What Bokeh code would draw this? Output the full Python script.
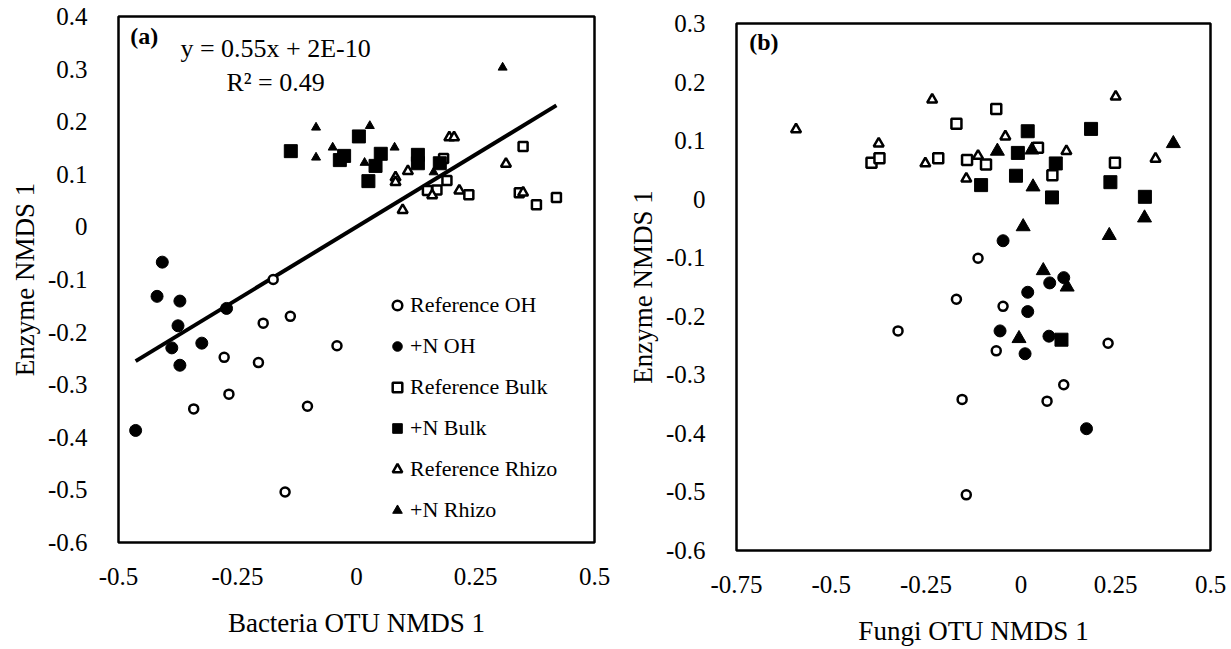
from bokeh.plotting import figure
from bokeh.models import Range1d, FixedTicker, Label, Legend, LegendItem
from bokeh.layouts import row
from bokeh.embed import file_html
from bokeh.resources import INLINE

FONT = "Liberation Serif"

# ---------------- Panel (a): Bacteria OTU NMDS 1 vs Enzyme NMDS 1 ----------------
a_ref_oh_x = [-0.175, -0.196, -0.139, -0.041, -0.278, -0.206, -0.268, -0.342, -0.103, -0.150]
a_ref_oh_y = [-0.100, -0.183, -0.170, -0.226, -0.248, -0.258, -0.318, -0.346, -0.341, -0.504]
a_n_oh_x = [-0.408, -0.419, -0.371, -0.375, -0.388, -0.325, -0.371, -0.273, -0.464]
a_n_oh_y = [-0.067, -0.132, -0.141, -0.188, -0.230, -0.221, -0.263, -0.155, -0.387]
a_ref_bulk_x = [0.183, 0.350, 0.190, 0.149, 0.169, 0.236, 0.342, 0.378, 0.420]
a_ref_bulk_y = [0.130, 0.153, 0.088, 0.069, 0.070, 0.061, 0.065, 0.042, 0.056]
a_n_bulk_x = [-0.138, 0.005, -0.035, -0.026, 0.051, 0.040, 0.025, 0.129, 0.129, 0.175]
a_n_bulk_y = [0.144, 0.172, 0.127, 0.135, 0.139, 0.116, 0.087, 0.137, 0.121, 0.121]
a_ref_rhizo_x = [0.195, 0.205, 0.314, 0.082, 0.082, 0.108, 0.097, 0.216, 0.159, 0.350]
a_ref_rhizo_y = [0.170, 0.170, 0.120, 0.094, 0.085, 0.106, 0.032, 0.069, 0.060, 0.065]
a_n_rhizo_x = [-0.085, 0.028, 0.307, -0.050, -0.085, 0.080, 0.017, 0.162]
a_n_rhizo_y = [0.189, 0.192, 0.303, 0.151, 0.132, 0.151, 0.122, 0.104]

trend_slope = 0.55
trend_intercept = 2e-10
trend_text = "y = 0.55x + 2E-10"
r2_text = "R\u00b2 = 0.49"

# ---------------- Panel (b): Fungi OTU NMDS 1 vs Enzyme NMDS 1 ----------------
b_ref_oh_x = [-0.113, -0.170, -0.047, -0.324, -0.065, 0.230, 0.113, -0.155, 0.069, -0.144]
b_ref_oh_y = [-0.101, -0.171, -0.183, -0.225, -0.259, -0.246, -0.317, -0.342, -0.345, -0.505]
b_n_oh_x = [-0.047, 0.113, 0.076, 0.018, 0.018, -0.055, 0.074, 0.011, 0.173]
b_n_oh_y = [-0.071, -0.134, -0.143, -0.159, -0.192, -0.225, -0.234, -0.264, -0.392]
b_ref_bulk_x = [-0.394, -0.373, -0.218, -0.170, -0.142, -0.092, -0.065, 0.045, 0.083, 0.248]
b_ref_bulk_y = [0.062, 0.070, 0.070, 0.129, 0.067, 0.059, 0.154, 0.088, 0.041, 0.062]
b_n_bulk_x = [-0.105, 0.018, -0.008, -0.013, 0.092, 0.082, 0.185, 0.236, 0.327, 0.107]
b_n_bulk_y = [0.024, 0.116, 0.079, 0.040, 0.061, 0.003, 0.120, 0.029, 0.004, -0.240]
b_ref_rhizo_x = [-0.593, -0.375, -0.234, -0.252, -0.113, -0.144, -0.041, 0.120, 0.250, 0.355]
b_ref_rhizo_y = [0.119, 0.095, 0.170, 0.061, 0.074, 0.035, 0.107, 0.082, 0.175, 0.069]
b_n_rhizo_x = [-0.062, 0.029, 0.032, 0.402, 0.006, 0.233, 0.326, 0.059, 0.122, -0.005]
b_n_rhizo_y = [0.082, 0.084, 0.021, 0.095, -0.047, -0.062, -0.032, -0.122, -0.150, -0.238]

# ---------------- Axes ----------------
a_xticks = [-0.5, -0.25, 0, 0.25, 0.5]
a_xlabels = ["-0.5", "-0.25", "0", "0.25", "0.5"]
a_yticks = [-0.6, -0.5, -0.4, -0.3, -0.2, -0.1, 0, 0.1, 0.2, 0.3, 0.4]
a_ylabels = ["-0.6", "-0.5", "-0.4", "-0.3", "-0.2", "-0.1", "0", "0.1", "0.2", "0.3", "0.4"]
b_xticks = [-0.75, -0.5, -0.25, 0, 0.25, 0.5]
b_xlabels = ["-0.75", "-0.5", "-0.25", "0", "0.25", "0.5"]
b_yticks = [-0.6, -0.5, -0.4, -0.3, -0.2, -0.1, 0, 0.1, 0.2, 0.3]
b_ylabels = ["-0.6", "-0.5", "-0.4", "-0.3", "-0.2", "-0.1", "0", "0.1", "0.2", "0.3"]

series_names = ["Reference OH", "+N OH", "Reference Bulk", "+N Bulk", "Reference Rhizo", "+N Rhizo"]


def make_fig(xr, yr, w, ml, mr, mt, mb, xticks, xlabels, yticks, ylabels, xtitle, ytitle):
    p = figure(width=w, height=649, x_range=Range1d(*xr), y_range=Range1d(*yr),
               output_backend="svg", toolbar_location=None,
               min_border_left=ml, min_border_right=mr, min_border_top=mt, min_border_bottom=mb)
    p.frame_align = False
    p.xgrid.visible = False
    p.ygrid.visible = False
    p.background_fill_color = "white"
    p.border_fill_color = "white"
    p.outline_line_color = "black"
    p.outline_line_width = 2.5
    p.outline_line_alpha = 1.0
    for ax, ticks, labels, title in [(p.xaxis[0], xticks, xlabels, xtitle),
                                     (p.yaxis[0], yticks, ylabels, ytitle)]:
        ax.ticker = FixedTicker(ticks=ticks)
        ax.major_label_overrides = dict(zip(ticks, labels))
        ax.major_tick_line_color = None
        ax.minor_tick_line_color = None
        ax.axis_line_color = None
        ax.major_label_text_font = FONT
        ax.major_label_text_font_size = "25px"
        ax.major_label_text_color = "black"
        ax.axis_label = title
        ax.axis_label_text_font = FONT
        ax.axis_label_text_font_size = "27px"
        ax.axis_label_text_font_style = "normal"
        ax.axis_label_text_color = "black"
    p.xaxis[0].major_label_standoff = 19
    p.xaxis[0].axis_label_standoff = 20
    p.yaxis[0].major_label_standoff = 25
    p.yaxis[0].axis_label_standoff = 5
    return p


def add_series(p, xs_list, ys_list, sizes):
    styles = [
        dict(marker="circle", fill_color="white", line_color="black", line_width=2.5),
        dict(marker="circle", fill_color="black", line_color="black", line_width=1),
        dict(marker="square", fill_color="white", line_color="black", line_width=2.5),
        dict(marker="square", fill_color="black", line_color="black", line_width=1),
        dict(marker="triangle", fill_color="white", line_color="black", line_width=2.5),
        dict(marker="triangle", fill_color="black", line_color="black", line_width=1),
    ]
    rs = []
    for xs, ys, st, sz in zip(xs_list, ys_list, styles, sizes):
        rs.append(p.scatter(xs, ys, size=sz, **st))
    return rs


# ---- Panel (a)
pa = make_fig((-0.5, 0.5), (-0.6, 0.4), 615, 118, 21, 16, 107,
              a_xticks, a_xlabels, a_yticks, a_ylabels,
              "Bacteria OTU NMDS 1", "Enzyme NMDS 1")

all_ax = a_ref_oh_x + a_n_oh_x + a_ref_bulk_x + a_n_bulk_x + a_ref_rhizo_x + a_n_rhizo_x
x0, x1 = min(all_ax), max(all_ax)
pa.line([x0, x1], [trend_slope * x0 + trend_intercept, trend_slope * x1 + trend_intercept],
        line_color="black", line_width=4)

ra = add_series(pa,
                [a_ref_oh_x, a_n_oh_x, a_ref_bulk_x, a_n_bulk_x, a_ref_rhizo_x, a_n_rhizo_x],
                [a_ref_oh_y, a_n_oh_y, a_ref_bulk_y, a_n_bulk_y, a_ref_rhizo_y, a_n_rhizo_y],
                [9, 12, 9, 13, 10, 9])

legend = Legend(items=[LegendItem(label=n, renderers=[r]) for n, r in zip(series_names, ra)],
                location=(267, 19), border_line_color=None, background_fill_alpha=0,
                padding=0, margin=0, spacing=15, glyph_width=24, glyph_height=26,
                label_height=26, label_standoff=1,
                label_text_font=FONT, label_text_font_size="22px", label_text_color="black")
pa.add_layout(legend)

pa.add_layout(Label(x=-0.446, y=0.363, text="(a)", text_font=FONT, text_font_size="24px",
                    text_font_style="bold", text_align="center", text_baseline="middle",
                    text_color="black"))
pa.add_layout(Label(x=-0.170, y=0.340, text=trend_text, text_font=FONT, text_font_size="26px",
                    text_align="center", text_baseline="middle", text_color="black"))
pa.add_layout(Label(x=-0.170, y=0.274, text=r2_text, text_font=FONT, text_font_size="26px",
                    text_align="center", text_baseline="middle", text_color="black"))

# ---- Panel (b)
pb = make_fig((-0.75, 0.5), (-0.6, 0.3), 616, 121, 21, 23, 99,
              b_xticks, b_xlabels, b_yticks, b_ylabels,
              "Fungi OTU NMDS 1", "Enzyme NMDS 1")
add_series(pb,
           [b_ref_oh_x, b_n_oh_x, b_ref_bulk_x, b_n_bulk_x, b_ref_rhizo_x, b_n_rhizo_x],
           [b_ref_oh_y, b_n_oh_y, b_ref_bulk_y, b_n_bulk_y, b_ref_rhizo_y, b_n_rhizo_y],
           [9, 12, 10, 13, 10, 14])
pb.add_layout(Label(x=-0.678, y=0.269, text="(b)", text_font=FONT, text_font_size="24px",
                    text_font_style="bold", text_align="center", text_baseline="middle",
                    text_color="black"))

layout = row(pa, pb)
open("out.html", "w").write(file_html(layout, INLINE))
